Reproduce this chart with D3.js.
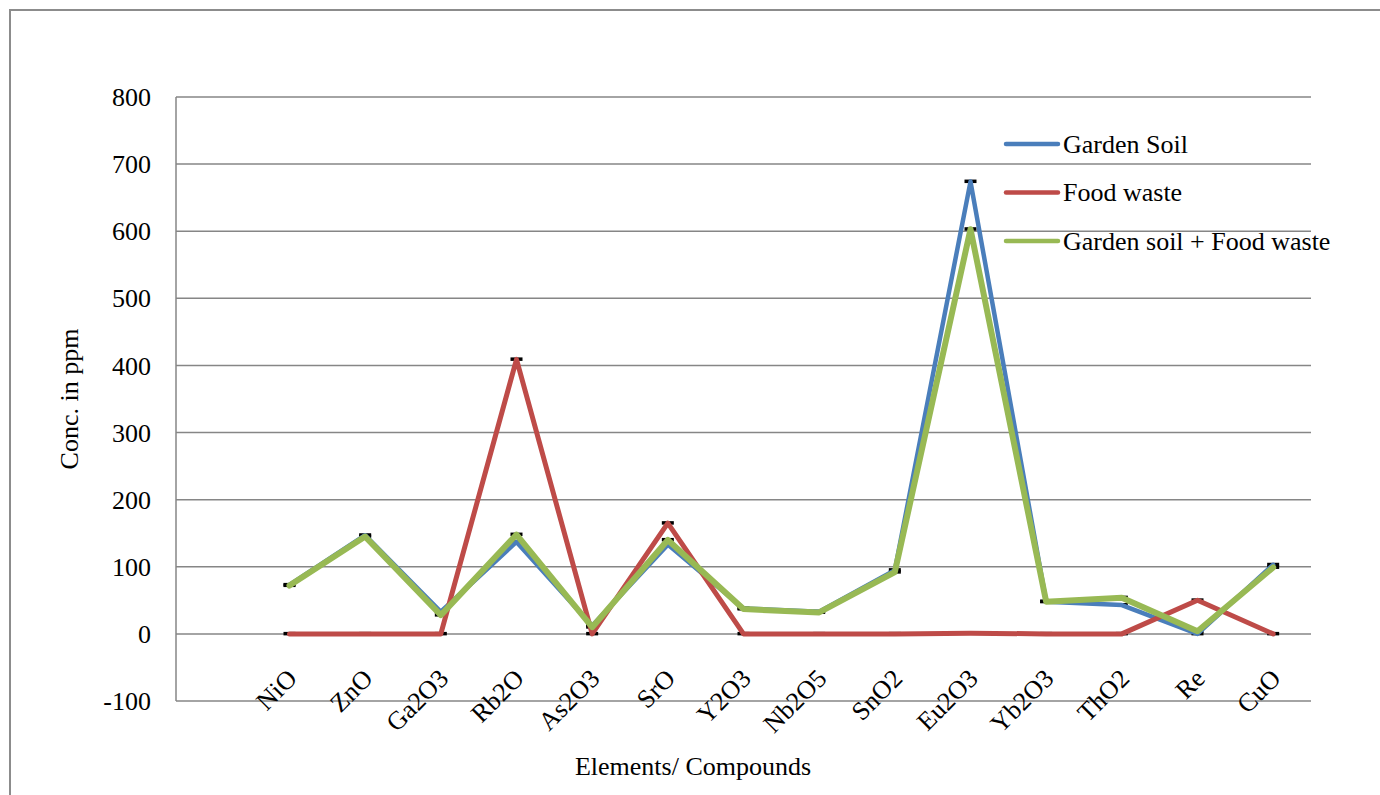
<!DOCTYPE html>
<html>
<head>
<meta charset="utf-8">
<script src="https://cdn.jsdelivr.net/npm/d3@7"></script>
<style>
  body { margin: 0; background: #fff; }
  text { font-family: "Liberation Serif", "Times New Roman", serif; fill: #000; }
</style>
</head>
<body>
<div id="chart"></div>
<script>
// categories (first slot is left empty, like the original)
const categories = ["", "NiO", "ZnO", "Ga2O3", "Rb2O", "As2O3", "SrO", "Y2O3",
    "Nb2O5", "SnO2", "Eu2O3", "Yb2O3", "ThO2", "Re", "CuO"];
const compounds = categories.slice(1);

const gardenSoil = [73, 147, 33, 137, 12, 133, 38, 33, 95, 674, 48, 43, 0, 103];
const foodWaste  = [0, 0, 0, 409, 0, 165, 0, 0, 0, 1, 0, 0, 50, 0];
const mixture    = [72, 145, 28, 148, 10, 140, 37, 32, 92, 603, 48, 54, 4, 99];

const yTicks = [-100, 0, 100, 200, 300, 400, 500, 600, 700, 800];

const series = [
    { name: "Garden Soil", values: gardenSoil, color: "#4a7ebb", width: 4.5 },
    { name: "Food waste", values: foodWaste, color: "#be4b48", width: 5 },
    { name: "Garden soil + Food waste", values: mixture, color: "#98b954", width: 6 }
];

const width = 1380, height = 795;
const plotLeft = 176, plotRight = 1311, plotTop = 97, plotBottom = 701;

const svg = d3.select("#chart")
    .append("svg")
    .attr("width", width)
    .attr("height", height);

// outer chart frame
svg.append("rect")
    .attr("x", 10)
    .attr("y", 10)
    .attr("width", 1400)
    .attr("height", 820)
    .attr("fill", "none")
    .attr("stroke", "#8c8c8c")
    .attr("stroke-width", 2);

const x = d3.scaleBand().domain(categories).range([plotLeft, plotRight]).padding(0);
const y = d3.scaleLinear().domain([-100, 800]).range([plotBottom, plotTop]);
const cx = c => x(c) + x.bandwidth() / 2;

// gridlines
svg.append("g")
    .selectAll("line")
    .data(yTicks)
    .join("line")
    .attr("x1", plotLeft)
    .attr("x2", plotRight)
    .attr("y1", d => y(d))
    .attr("y2", d => y(d))
    .attr("stroke", "#868686")
    .attr("stroke-width", 1.5);

svg.append("line")
    .attr("x1", plotLeft).attr("x2", plotLeft)
    .attr("y1", plotTop).attr("y2", plotBottom)
    .attr("stroke", "#868686")
    .attr("stroke-width", 1.5);

// y tick labels
svg.append("g")
    .selectAll("text")
    .data(yTicks)
    .join("text")
    .attr("x", 151)
    .attr("y", d => y(d))
    .attr("dy", "0.35em")
    .attr("text-anchor", "end")
    .style("font-size", "26px")
    .text(d => d);

// category labels, rotated
svg.append("g")
    .selectAll("text")
    .data(compounds)
    .join("text")
    .attr("transform", d => `translate(${cx(d) + 9},680) rotate(-45)`)
    .attr("text-anchor", "end")
    .style("font-size", "26px")
    .text(d => d);

// axis titles
svg.append("text")
    .attr("transform", "translate(78,399) rotate(-90)")
    .attr("text-anchor", "middle")
    .style("font-size", "26px")
    .text("Conc. in ppm");

svg.append("text")
    .attr("x", 693)
    .attr("y", 775)
    .attr("text-anchor", "middle")
    .style("font-size", "26px")
    .text("Elements/ Compounds");

// small black dash markers under the lines
series.forEach(s => {
    svg.append("g")
        .selectAll("rect")
        .data(s.values)
        .join("rect")
        .attr("x", (d, i) => cx(compounds[i]) - 6)
        .attr("y", d => y(d) - 2)
        .attr("width", 12)
        .attr("height", 3.5)
        .attr("fill", "#000");
});

const line = d3.line()
    .x((d, i) => cx(compounds[i]))
    .y(d => y(d));

series.forEach(s => {
    svg.append("path")
        .datum(s.values)
        .attr("d", line)
        .attr("fill", "none")
        .attr("stroke", s.color)
        .attr("stroke-width", s.width)
        .attr("stroke-linejoin", "round")
        .attr("stroke-linecap", "round");
});

// legend
const legend = svg.append("g");
series.forEach((s, i) => {
    const ly = 144 + i * 48.5;
    legend.append("line")
        .attr("x1", 1006).attr("x2", 1058)
        .attr("y1", ly).attr("y2", ly)
        .attr("stroke", s.color)
        .attr("stroke-width", 4.5)
        .attr("stroke-linecap", "round");
    legend.append("text")
        .attr("x", 1063)
        .attr("y", ly)
        .attr("dy", "0.33em")
        .style("font-size", "26px")
        .text(s.name);
});
</script>
</body>
</html>
